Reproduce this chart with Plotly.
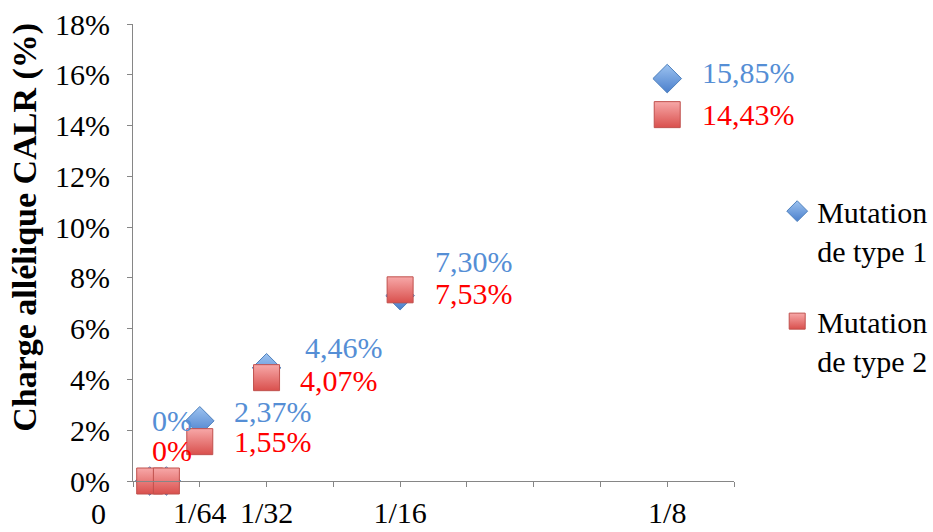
import plotly.graph_objects as go

# ---- data ----
dilutions = [1/256, 1/128, 1/64, 1/32, 1/16, 1/8]
type1 = [0.0, 0.0, 0.0237, 0.0446, 0.0730, 0.1585]
type2 = [0.0, 0.0, 0.0155, 0.0407, 0.0753, 0.1443]
type1_labels = ["0%", "0%", "2,37%", "4,46%", "7,30%", "15,85%"]
type2_labels = ["0%", "0%", "1,55%", "4,07%", "7,53%", "14,43%"]
x_tickvals = [k / 64 for k in range(10)]
x_ticktext = ["", "1/64", "1/32", "", "1/16", "", "", "", "1/8", ""]
series_names = ["Mutation<br>de type 1", "Mutation<br>de type 2"]
y_title = "Charge allélique CALR (%)"

# ---- label offsets (style, pixels) ----
t1_shift = [(0, 61), (-17, 61), (32, 9), (36, 20), (33, 34), (33, 6)]
t2_shift = [(0, 31), (-17, 31), (32, 0), (31, -3), (33, -4), (33, 0)]

FONT = "'Liberation Serif', 'Times New Roman', serif"
BLUE_TXT = "#558ED5"
RED_TXT = "#FF0000"

fig = go.Figure()
fig.add_trace(go.Scatter(
    x=dilutions, y=type1, mode="markers", name=series_names[0],
    legendgroup="a", cliponaxis=False,
    marker=dict(symbol="diamond", size=22, color="#9DC3F0",
                gradient=dict(type="vertical", color="#4A7FCC"),
                line=dict(color="#4F81BD", width=1)),
))
fig.add_trace(go.Scatter(
    x=dilutions, y=type2, mode="markers", name=series_names[1],
    legendgroup="b", cliponaxis=False,
    marker=dict(symbol="square", size=26, color="#F7A8A8",
                gradient=dict(type="vertical", color="#D9504D"),
                line=dict(color="#C0504D", width=1)),
))

annotations = []
for xs, ys, labs, shifts, col in [
    (dilutions, type1, type1_labels, t1_shift, BLUE_TXT),
    (dilutions, type2, type2_labels, t2_shift, RED_TXT),
]:
    for i, (xv, yv, lab, (dx, dy)) in enumerate(zip(xs, ys, labs, shifts)):
        # the two 0% labels sit exactly on top of each other; the second one is
        # drawn fully transparent to avoid double-inked text
        op = 0.0 if i == 1 else 1.0
        annotations.append(dict(
            x=xv, y=yv, xref="x", yref="y", text=lab, showarrow=False,
            xanchor="left", yanchor="middle", xshift=dx, yshift=dy, opacity=op,
            font=dict(family=FONT, size=30, color=col),
        ))
annotations.append(dict(
    x=0, y=0, xref="x", yref="paper", text="0", showarrow=False,
    xanchor="center", yanchor="top", xshift=-35, yshift=-14,
    font=dict(family=FONT, size=30, color="#000000"),
))
annotations.append(dict(
    x=0, y=0.554, xref="paper", yref="paper", text="<b>" + y_title + "</b>",
    showarrow=False, textangle=-90, xanchor="center", yanchor="middle",
    xshift=-108, font=dict(family=FONT, size=34, color="#000000"),
))

fig.update_layout(
    width=933, height=532,
    margin=dict(l=133, r=199, t=24, b=51, autoexpand=False),
    paper_bgcolor="white", plot_bgcolor="white",
    font=dict(family=FONT, size=30, color="#000000"),
    annotations=annotations,
    showlegend=True,
    legend=dict(xref="container", yref="container", x=0.833, y=0.652,
                xanchor="left", yanchor="top", valign="top",
                tracegroupgap=29, traceorder="grouped",
                font=dict(family=FONT, size=30, color="#000000"),
                bgcolor="rgba(0,0,0,0)"),
    xaxis=dict(range=[0, 9/64], tickvals=x_tickvals, ticktext=x_ticktext,
               showgrid=False, zeroline=False, showline=True, automargin=False,
               linecolor="#868686", linewidth=1, ticks="outside",
               ticklen=5, tickcolor="#868686",
               tickfont=dict(family=FONT, size=30)),
    yaxis=dict(range=[0, 0.18], dtick=0.02, tickformat=".0%",
               showgrid=False, zeroline=False, showline=True, automargin=False,
               linecolor="#868686", linewidth=1, ticks="outside",
               ticklen=5, tickcolor="#868686", ticklabelstandoff=11,
               tickfont=dict(family=FONT, size=30)),
)

fig.write_html("out.html", config={"displayModeBar": False},
               post_script="document.body.style.margin='0';document.body.style.overflow='hidden';")
